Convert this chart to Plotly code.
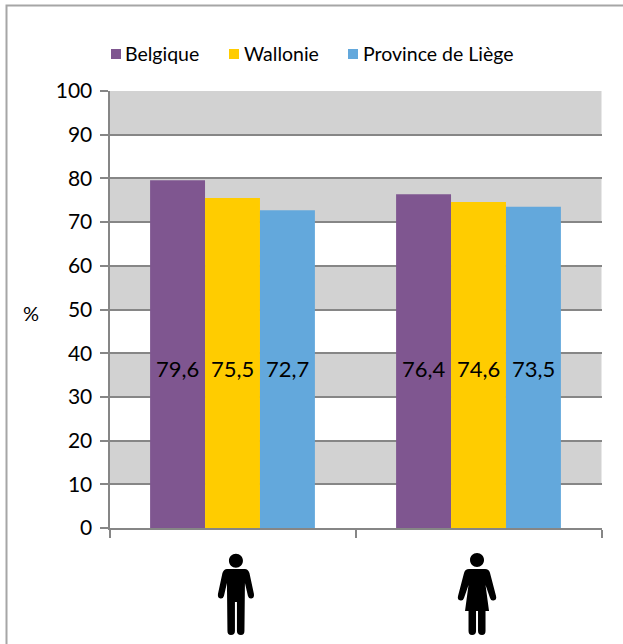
import plotly.graph_objects as go

W, H = 623, 644
categories = ["Hommes", "Femmes"]
series_names = ["Belgique", "Wallonie", "Province de Liège"]
belgique = [79.6, 76.4]
wallonie = [75.5, 74.6]
liege = [72.7, 73.5]
series_values = [belgique, wallonie, liege]
colors = ["#7F5690", "#FFCC00", "#63A8DC"]
y_ticks = list(range(0, 101, 10))
grey_bands = [(90, 100), (70, 80), (50, 60), (30, 40), (10, 20)]
label_height = 36.6
GRID = "#868686"
FONT = "Lato, Carlito, 'Open Sans', sans-serif"

L, R, T, B = 109.5, 601.5, 91, 528
px = lambda v: v / W
py = lambda v: 1 - v / H


def head(cy, r=7):
    k = 0.5523 * r
    return (f"M{-r},{cy} C{-r},{cy+k} {-k},{cy+r} 0,{cy+r} C{k},{cy+r} {r},{cy+k} {r},{cy} "
            f"C{r},{cy-k} {k},{cy-r} 0,{cy-r} C{-k},{cy-r} {-r},{cy-k} {-r},{cy} Z ")


# Pictogram outlines, in pixels around an anchor under each category (y points up)
MAN = head(74.3) + (
    "M-9,66 L9,66 Q12,66 13.5,62 L18,41 Q18.5,37 15.5,36.5 Q13,36 12,39 L9,52 L8.5,4 "
    "Q8.5,0 5,0 Q1,0 1,4 L1,33 L-1,33 L-1,4 Q-1,0 -5,0 Q-8.5,0 -8.5,4 L-9,52 L-12,39 "
    "Q-13,36 -15.5,36.5 Q-18.5,37 -18,41 L-13.5,62 Q-12,66 -9,66 Z")
WOMAN = head(75) + (
    "M-8,66 L8,66 Q12,66 13,62 L19,39 Q20,35 16.5,34.5 Q14,34 13,37 L8.5,50 L12,24 L8.5,24 L8.5,4 "
    "Q8.5,0 5,0 Q1,0 1,4 L1,24 L-1,24 L-1,4 Q-1,0 -5,0 Q-8.5,0 -8.5,4 L-8.5,24 L-12,24 L-8.5,50 "
    "L-13,37 Q-14,34 -16.5,34.5 Q-20,35 -19,39 L-13,62 Q-12,66 -8,66 Z")
icon_offsets = [0.014, -0.006]

fig = go.Figure()
xs = list(range(len(categories)))
for name, vals, col in zip(series_names, series_values, colors):
    fig.add_trace(go.Bar(x=xs, y=vals, name=name, marker=dict(color=col, line_width=0),
                         showlegend=False, hovertemplate="%{y}<extra>" + name + "</extra>"))

shapes = []
for lo, hi in grey_bands:
    shapes.append(dict(type="rect", xref="x domain", yref="y", x0=0, x1=1, y0=lo, y1=hi,
                       fillcolor="#D2D2D2", line_width=0, layer="below"))
# outer frame (top and left edges visible; the others fall outside the picture)
shapes.append(dict(type="rect", xref="paper", yref="paper", x0=px(6.5), x1=px(640), y0=py(5.5), y1=py(660),
                   line=dict(color="#A6A6A6", width=2), fillcolor="rgba(0,0,0,0)", layer="below"))
# gender icons
for i, path, off in zip(xs, [MAN, WOMAN], icon_offsets):
    shapes.append(dict(type="path", xref="x", yref="paper", xsizemode="pixel", ysizemode="pixel",
                       xanchor=i + off, yanchor=py(635), path=path, fillcolor="black", line_width=0))

annotations = []
bar_w = (1 - 0.33) / 3
for k, vals in enumerate(series_values):
    for i, v in zip(xs, vals):
        annotations.append(dict(x=i + (k - 1) * bar_w, y=label_height, xref="x", yref="y",
                                text=f"{v:.1f}".replace(".", ","), showarrow=False,
                                font=dict(family=FONT, size=22, color="black")))
annotations.append(dict(x=px(31), y=py(313), xref="paper", yref="paper", text="%", showarrow=False,
                        xanchor="center", yanchor="middle",
                        font=dict(family=FONT, size=20, color="black")))
# legend
for name, col, x0, tx in zip(series_names, colors, [111, 229, 348], [125, 244, 363]):
    shapes.append(dict(type="rect", xref="paper", yref="paper", x0=px(x0), x1=px(x0 + 10),
                       y0=py(59), y1=py(49), fillcolor=col, line_width=0))
    annotations.append(dict(x=px(tx), y=py(53), xref="paper", yref="paper", xanchor="left", yanchor="middle",
                            text=name, showarrow=False, borderpad=0, borderwidth=0,
                            font=dict(family=FONT, size=19.5, color="black")))

fig.update_layout(
    width=W, height=H, margin=dict(l=0, r=0, t=0, b=0, pad=0), autosize=False,
    paper_bgcolor="white", plot_bgcolor="white", barmode="group", bargap=0.33, bargroupgap=0,
    showlegend=False, shapes=shapes, annotations=annotations,
    xaxis=dict(domain=[px(L), px(R)], range=[-0.5, 1.5], tickmode="array", tickvals=[-0.5, 0.5, 1.5],
               ticktext=["", "", ""], ticks="outside", ticklen=8, tickwidth=1.5, tickcolor=GRID,
               automargin=False,
               showgrid=False, zeroline=False, showline=True, linecolor=GRID, linewidth=2),
    yaxis=dict(domain=[py(B), py(T)], range=[0, 100], tickmode="array", tickvals=y_ticks,
               ticks="outside", ticklen=8, tickwidth=2, tickcolor=GRID, automargin=False,
               ticklabelstandoff=3,
               tickfont=dict(family=FONT, size=21, color="black"),
               showgrid=True, gridcolor=GRID, gridwidth=2, zeroline=False,
               showline=True, linecolor=GRID, linewidth=2, layer="below traces"),
)
fig.write_html("out.html", config={"displayModeBar": False},
               post_script="document.body.style.margin='0';")
